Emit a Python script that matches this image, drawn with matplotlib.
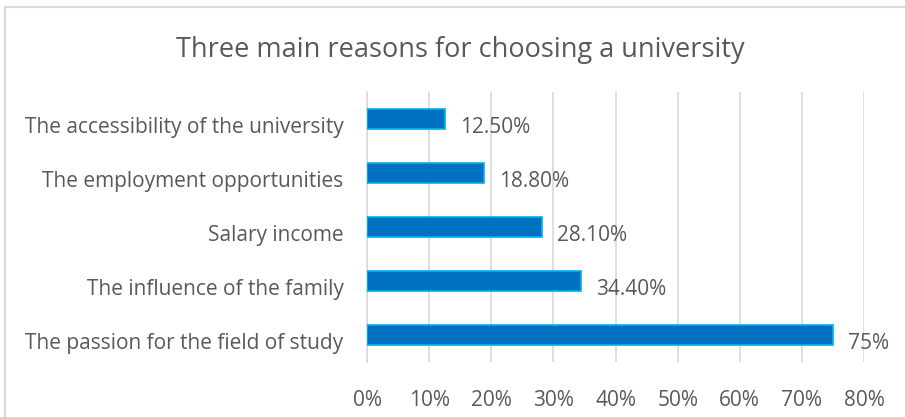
import matplotlib.pyplot as plt
import matplotlib.transforms as mtransforms
from matplotlib.patches import Rectangle
from matplotlib.ticker import FuncFormatter

reasons = ["The passion for the field of study",
           "The influence of the family",
           "Salary income",
           "The employment opportunities",
           "The accessibility of the university"]
shares = [75, 34.4, 28.1, 18.8, 12.5]
share_labels = ["75%", "34.40%", "28.10%", "18.80%", "12.50%"]

plt.rcParams['font.family'] = ['Open Sans', 'DejaVu Sans']
txt = '#595959'

fig = plt.figure(figsize=(9.05, 4.17), dpi=100)
# chart frame
fig.patches.append(Rectangle((5 / 905, -0.1), 905, 1.1 - 7 / 417,
                             transform=fig.transFigure, fill=False,
                             edgecolor='#D9D9D9', linewidth=1.5))

ax = fig.add_axes([367 / 905, (417 - 362) / 417, (864 - 367) / 905, (362 - 92) / 417])
ypos = range(len(reasons))
ax.barh(ypos, shares, height=0.38, color='#0070C0', edgecolor='#00B0F0', linewidth=1.2, zorder=3)
for y, v, s in zip(ypos, shares, share_labels):
    ax.text(v + 2.5, y - 0.15, s, va='center', ha='left', fontsize=15, color=txt)

ax.set_xlim(0, 80)
ax.set_ylim(-0.5, len(reasons) - 0.5)
ax.set_xticks(range(0, 81, 10))
ax.xaxis.set_major_formatter(FuncFormatter(lambda x, p: f"{x:.0f}%"))
ax.set_yticks(list(ypos))
ax.set_yticklabels(reasons)
ax.tick_params(axis='both', length=0, labelsize=15, colors=txt)
ax.tick_params(axis='x', pad=20)
ax.tick_params(axis='y', pad=17)
# category labels sit a little below the bar centres
shift = mtransforms.ScaledTranslation(0, -6 / 100, fig.dpi_scale_trans)
for lab in ax.get_yticklabels():
    lab.set_transform(lab.get_transform() + shift)
ax.grid(axis='x', color='#D9D9D9', linewidth=1.2, zorder=0)
for sp in ['top', 'right', 'bottom']:
    ax.spines[sp].set_visible(False)
ax.spines['left'].set_color('#D9D9D9')
ax.spines['left'].set_linewidth(1.2)

fig.text(0.509, 1 - 50 / 417, "Three main reasons for choosing a university",
         ha='center', va='center', fontsize=19.5, color=txt)

fig.savefig('out.png', dpi=100)
